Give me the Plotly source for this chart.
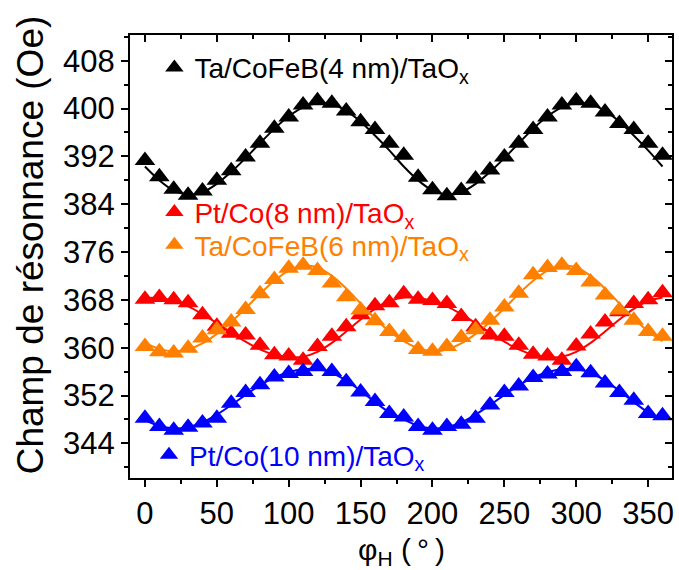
import plotly.graph_objects as go

# ---------------- data ----------------
phi = [0, 10, 20, 30, 40, 50, 60, 70, 80, 90, 100, 110, 120, 130, 140, 150, 160, 170, 180,
       190, 200, 210, 220, 230, 240, 250, 260, 270, 280, 290, 300, 310, 320, 330, 340, 350, 360]

ta_cofeb_4 = [391.3, 388.6, 386.5, 385.5, 386.2, 388.0, 389.6, 391.9, 394.2, 396.7, 398.6, 400.6, 401.3,
              400.9, 399.6, 397.8, 396.5, 394.2, 392.2, 388.5, 386.4, 385.4, 386.3, 388.2, 389.7, 391.9,
              394.2, 396.5, 398.6, 400.6, 401.3, 400.9, 399.4, 397.5, 396.5, 394.2, 392.2]
pt_co_8 = [368.1, 368.4, 368.0, 367.5, 365.5, 363.6, 362.4, 362.1, 360.4, 358.8, 358.6, 357.9, 360.2,
           361.9, 363.5, 365.5, 367.0, 367.5, 369.0, 368.1, 367.9, 367.4, 365.2, 363.5, 362.1, 361.9,
           360.4, 358.9, 358.6, 357.9, 360.3, 362.3, 364.3, 366.0, 367.4, 368.0, 369.2]
ta_cofeb_6 = [360.2, 359.3, 359.1, 359.9, 361.6, 363.0, 364.3, 366.4, 369.0, 371.4, 373.3, 373.8, 372.9,
              370.8, 368.5, 366.3, 364.5, 362.7, 361.7, 359.7, 359.4, 360.2, 361.7, 363.0, 364.6, 366.8,
              369.1, 372.2, 373.4, 373.8, 372.9, 371.0, 368.8, 366.3, 364.6, 362.7, 361.9]
pt_co_10 = [348.2, 346.8, 346.2, 346.7, 347.4, 348.2, 350.7, 352.5, 353.8, 355.1, 355.7, 356.0, 356.8,
            356.0, 354.3, 352.6, 351.0, 349.0, 348.4, 346.8, 346.2, 346.8, 347.2, 348.2, 350.4, 352.5,
            353.6, 355.0, 355.6, 356.0, 356.8, 355.8, 354.1, 352.5, 351.2, 349.0, 348.6]

fit_ta_cofeb_4 = [390.3, 388.0, 386.3, 385.6, 386.0, 387.4, 389.4, 391.7, 394.2, 396.6, 398.7, 400.2, 400.9,
                  400.7, 399.6, 397.8, 395.5, 393.0, 390.3, 388.0, 386.3, 385.6, 386.0, 387.4, 389.4, 391.7,
                  394.2, 396.6, 398.7, 400.2, 400.9, 400.7, 399.6, 397.8, 395.5, 393.0, 390.3]
fit_pt_co_8 = [368.3, 368.3, 367.8, 366.9, 365.6, 364.1, 362.5, 361.0, 359.7, 358.8, 358.4, 358.5, 359.3,
               360.8, 362.7, 364.7, 366.5, 367.8, 368.4, 368.3, 367.8, 366.9, 365.6, 364.1, 362.5, 361.0,
               359.7, 358.8, 358.4, 358.5, 359.3, 360.8, 362.7, 364.7, 366.5, 367.8, 368.4]
fit_ta_cofeb_6 = [360.8, 359.8, 359.4, 359.7, 360.7, 362.3, 364.3, 366.6, 369.0, 371.2, 372.9, 373.7, 373.4,
                  372.0, 369.9, 367.4, 364.9, 362.7, 361.1, 359.9, 359.4, 359.7, 360.7, 362.3, 364.3, 366.6,
                  369.0, 371.2, 372.9, 373.7, 373.4, 372.0, 369.9, 367.4, 364.9, 362.7, 361.1]
fit_pt_co_10 = [347.9, 346.9, 346.5, 346.7, 347.5, 348.8, 350.4, 352.1, 353.7, 355.0, 355.9, 356.4, 356.4,
                355.8, 354.5, 352.8, 350.9, 349.2, 348.0, 346.9, 346.5, 346.7, 347.5, 348.8, 350.4, 352.1,
                353.7, 355.0, 355.9, 356.4, 356.4, 355.8, 354.5, 352.8, 350.9, 349.2, 348.0]

series_names = ["Ta/CoFeB(4 nm)/TaO<sub>x</sub>", "Pt/Co(8 nm)/TaO<sub>x</sub>",
                "Ta/CoFeB(6 nm)/TaO<sub>x</sub>", "Pt/Co(10 nm)/TaO<sub>x</sub>"]
series_data = [ta_cofeb_4, pt_co_8, ta_cofeb_6, pt_co_10]
series_fits = [fit_ta_cofeb_4, fit_pt_co_8, fit_ta_cofeb_6, fit_pt_co_10]
colors = ["#000000", "#FF0000", "#FF8000", "#0000FF"]
legend_ids = ["legend", "legend2", "legend3", "legend4"]

x_ticks = [0, 50, 100, 150, 200, 250, 300, 350]
y_ticks = [344, 352, 360, 368, 376, 384, 392, 400, 408]
x_range = [-10.4, 366.6]
y_range = [338.2, 412.3]

FONT = "Liberation Sans, Arial, sans-serif"

fig = go.Figure()

for fit, col in zip(series_fits, colors):
    fig.add_trace(go.Scatter(x=phi, y=fit, mode="lines", line=dict(color=col, width=2, shape="spline"),
                             showlegend=False, hoverinfo="skip"))

for name, data, col, lg in zip(series_names, series_data, colors, legend_ids):
    fig.add_trace(go.Scatter(x=phi, y=data, mode="markers", name=name, legend=lg,
                             marker=dict(symbol="triangle-up", size=18, color=col, line=dict(width=0))))

# helper trace for the mirrored (top/right) axes
fig.add_trace(go.Scatter(x=[None], y=[None], xaxis="x2", yaxis="y2", showlegend=False, hoverinfo="skip"))

tickfont = dict(family=FONT, size=31, color="black")

def legend_at(x, y, col):
    return dict(x=x, y=y, xanchor="left", yanchor="middle", bgcolor="rgba(0,0,0,0)",
                font=dict(family=FONT, size=28, color=col), borderwidth=0)

fig.update_layout(
    width=679, height=570,
    margin=dict(l=130, r=5, t=35, b=92),
    paper_bgcolor="white", plot_bgcolor="white",
    xaxis=dict(range=x_range, tickvals=x_ticks, ticks="outside", ticklen=7, tickwidth=2, tickcolor="black",
               showline=True, linewidth=2, linecolor="black", showgrid=False, zeroline=False,
               tickfont=tickfont, minor=dict(dtick=25, tick0=0, ticks="outside", ticklen=4, tickwidth=2,
                                             tickcolor="black")),
    yaxis=dict(range=y_range, tickvals=y_ticks, ticks="outside", ticklen=7, tickwidth=2, tickcolor="black",
               showline=True, linewidth=2, linecolor="black", showgrid=False, zeroline=False,
               tickfont=tickfont, minor=dict(dtick=4, tick0=340, ticks="outside", ticklen=4, tickwidth=2,
                                             tickcolor="black")),
    xaxis2=dict(range=x_range, overlaying="x", side="top", anchor="y2", tickvals=x_ticks, ticks="inside",
                ticklen=7, tickwidth=2, tickcolor="black", showticklabels=False, showline=True, linewidth=2,
                linecolor="black", showgrid=False, zeroline=False,
                minor=dict(dtick=25, tick0=0, ticks="inside", ticklen=4, tickwidth=2, tickcolor="black")),
    yaxis2=dict(range=y_range, overlaying="y", side="right", anchor="x2", tickvals=y_ticks, ticks="inside",
                ticklen=7, tickwidth=2, tickcolor="black", showticklabels=False, showline=True, linewidth=2,
                linecolor="black", showgrid=False, zeroline=False,
                minor=dict(dtick=4, tick0=340, ticks="inside", ticklen=4, tickwidth=2, tickcolor="black")),
    legend=legend_at(0.045, 0.926, colors[0]),
    legend2=legend_at(0.045, 0.600, colors[1]),
    legend3=legend_at(0.045, 0.526, colors[2]),
    legend4=legend_at(0.035, 0.052, colors[3]),
    annotations=[
        dict(text="Champ de résonnance (Oe)", textangle=-90, xref="paper", yref="paper",
             x=-0.182, y=0.526, xanchor="center", yanchor="middle", showarrow=False,
             font=dict(family=FONT, size=37, color="black")),
        dict(text="φ<sub>H</sub> (\u2009°\u2009)", xref="paper", yref="paper",
             x=0.5, y=-0.165, xanchor="center", yanchor="middle", showarrow=False,
             font=dict(family=FONT, size=30, color="black")),
    ],
)

fig.write_html("out.html", config={"displayModeBar": False},
               post_script="document.body.style.margin='0';document.body.style.overflow='hidden';")
